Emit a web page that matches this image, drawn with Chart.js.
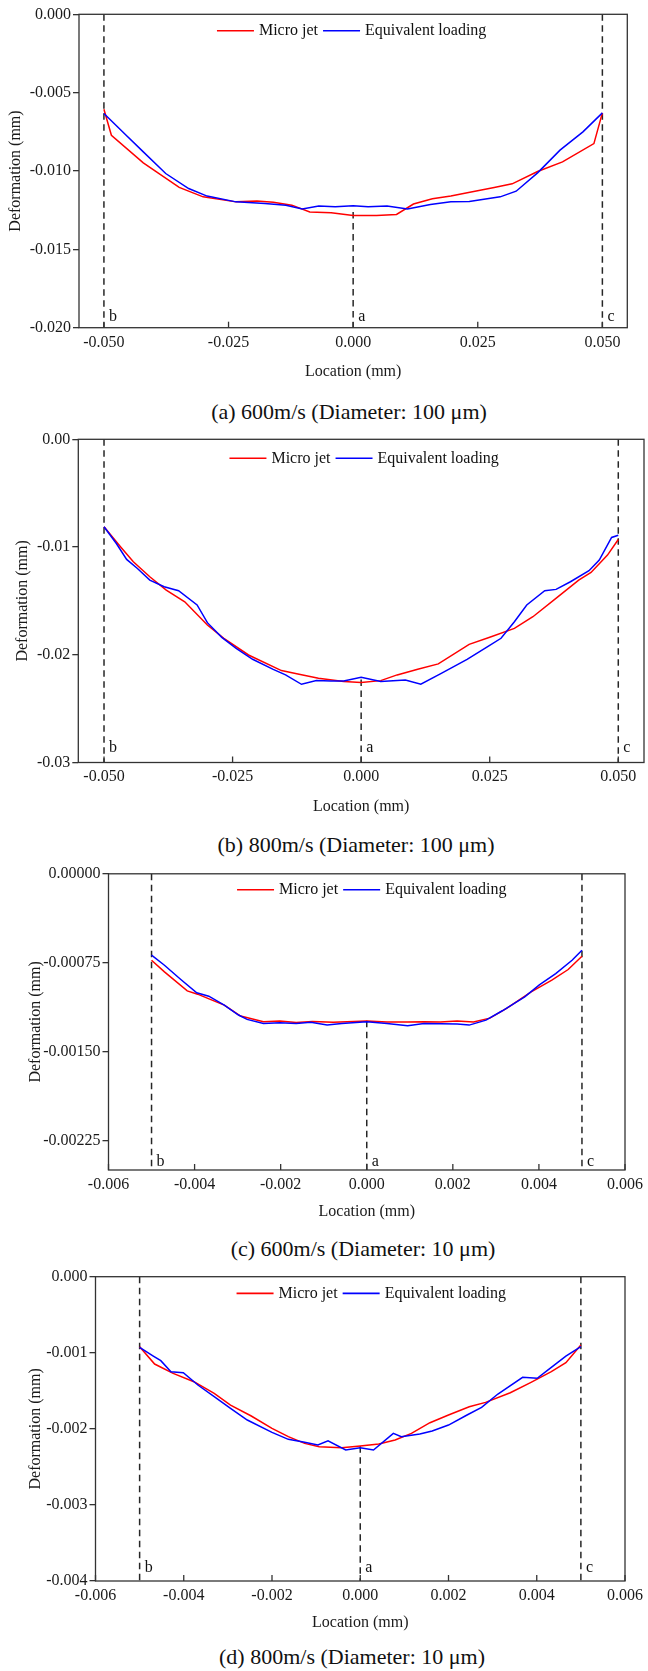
<!DOCTYPE html>
<html>
<head>
<meta charset="utf-8">
<script src="https://cdn.jsdelivr.net/npm/chart.js@4.4.0/dist/chart.umd.min.js"></script>
<style>
  body { margin: 0; background: #fff; }
  #page { position: relative; width: 648px; height: 1671px; overflow: hidden; }
  #page canvas { position: absolute; left: 0; }
  .caption {
    position: absolute; transform: translateX(-50%); white-space: nowrap;
    font: 22px "Liberation Serif", "Times New Roman", serif; line-height: 26px; color: #111;
  }
</style>
</head>
<body>
<div id="page"></div>
<script>
// series names / colours shared by all four plots
const seriesNames = ["Micro jet", "Equivalent loading"];
const seriesColors = ["#ff0000", "#0000ff"];
const markerNames = ["b", "a", "c"];

const captions = [
  "(a) 600m/s (Diameter: 100 μm)",
  "(b) 800m/s (Diameter: 100 μm)",
  "(c) 600m/s (Diameter: 10 μm)",
  "(d) 800m/s (Diameter: 10 μm)"
];

// (a) 600 m/s, 100 um
const aMicroX = [-0.050, -0.0485, -0.0421, -0.0349, -0.0301, -0.0235, -0.0193, -0.0160, -0.0123, -0.0087, -0.0044, 0.0000, 0.0047, 0.0087, 0.0121, 0.0159, 0.0196, 0.0229, 0.0283, 0.0319, 0.0370, 0.0420, 0.0483, 0.050];
const aMicroY = [-0.00606, -0.00772, -0.00948, -0.01105, -0.01165, -0.01197, -0.01192, -0.01199, -0.01218, -0.01262, -0.01267, -0.01284, -0.01284, -0.01277, -0.01211, -0.01177, -0.01160, -0.01139, -0.01105, -0.01082, -0.01003, -0.00942, -0.00825, -0.00629];
const aEquivX = [-0.050, -0.0459, -0.0421, -0.0376, -0.0330, -0.0293, -0.0235, -0.0177, -0.0135, -0.0102, -0.0069, -0.0036, 0.0000, 0.0030, 0.0068, 0.0109, 0.0155, 0.0196, 0.0233, 0.0295, 0.0327, 0.0370, 0.0415, 0.0461, 0.050];
const aEquivY = [-0.00633, -0.00761, -0.00878, -0.01016, -0.01112, -0.01160, -0.01197, -0.01207, -0.01218, -0.01243, -0.01224, -0.01228, -0.01222, -0.01228, -0.01224, -0.01243, -0.01214, -0.01197, -0.01194, -0.01165, -0.01129, -0.01012, -0.00867, -0.00750, -0.00629];

// (b) 800 m/s, 100 um
const bMicroX = [-0.0500, -0.0468, -0.0443, -0.0411, -0.0379, -0.0343, -0.0299, -0.0267, -0.0219, -0.0155, -0.0123, -0.0083, -0.0034, 0.0000, 0.0038, 0.0070, 0.0110, 0.0150, 0.0210, 0.0250, 0.0298, 0.0334, 0.0383, 0.0423, 0.0447, 0.0479, 0.0500];
const bMicroY = [-0.00812, -0.00998, -0.01137, -0.01276, -0.01399, -0.01508, -0.01724, -0.01847, -0.02002, -0.02147, -0.02178, -0.02218, -0.02249, -0.02258, -0.02240, -0.02187, -0.02135, -0.02085, -0.01903, -0.01838, -0.01755, -0.01647, -0.01461, -0.01307, -0.01236, -0.01075, -0.00930];
const bEquivX = [-0.0500, -0.0476, -0.0456, -0.0435, -0.0411, -0.0383, -0.0355, -0.0319, -0.0299, -0.0271, -0.0243, -0.0211, -0.0171, -0.0147, -0.0116, -0.0087, -0.0059, -0.0034, 0.0000, 0.0038, 0.0086, 0.0116, 0.0154, 0.0206, 0.0246, 0.0272, 0.0298, 0.0322, 0.0357, 0.0379, 0.0407, 0.0443, 0.0463, 0.0487, 0.0500];
const bEquivY = [-0.00812, -0.00967, -0.01115, -0.01199, -0.01307, -0.01369, -0.01406, -0.01538, -0.01702, -0.01838, -0.01940, -0.02042, -0.02135, -0.02187, -0.02274, -0.02240, -0.02243, -0.02243, -0.02209, -0.02249, -0.02234, -0.02274, -0.02178, -0.02042, -0.01925, -0.01847, -0.01693, -0.01538, -0.01406, -0.01393, -0.01322, -0.01220, -0.01121, -0.00911, -0.00890];

// (c) 600 m/s, 10 um
const cMicroX = [-0.00500, -0.00470, -0.00417, -0.00393, -0.00365, -0.00331, -0.00293, -0.00240, -0.00202, -0.00164, -0.00126, -0.00078, -0.00030, 0.00000, 0.00047, 0.00095, 0.00133, 0.00171, 0.00210, 0.00248, 0.00286, 0.00325, 0.00382, 0.00430, 0.00468, 0.00500];
const cMicroY = [-0.000730, -0.000828, -0.000988, -0.001016, -0.001058, -0.001108, -0.001201, -0.001249, -0.001243, -0.001254, -0.001246, -0.001254, -0.001246, -0.001243, -0.001251, -0.001251, -0.001249, -0.001251, -0.001243, -0.001251, -0.001218, -0.001136, -0.000996, -0.000898, -0.000808, -0.000696];
const cEquivX = [-0.00500, -0.00470, -0.00432, -0.00395, -0.00367, -0.00331, -0.00298, -0.00278, -0.00240, -0.00202, -0.00164, -0.00130, -0.00092, -0.00058, 0.00000, 0.00047, 0.00095, 0.00133, 0.00171, 0.00210, 0.00238, 0.00277, 0.00315, 0.00367, 0.00401, 0.00439, 0.00477, 0.00500];
const cEquivY = [-0.000687, -0.000772, -0.000892, -0.001004, -0.001033, -0.001108, -0.001192, -0.001229, -0.001263, -0.001257, -0.001263, -0.001254, -0.001277, -0.001263, -0.001249, -0.001263, -0.001282, -0.001263, -0.001265, -0.001268, -0.001277, -0.001235, -0.001156, -0.001038, -0.000937, -0.000842, -0.000730, -0.000645];

// (d) 800 m/s, 10 um
const dMicroX = [-0.00500, -0.00466, -0.00424, -0.00377, -0.00331, -0.00294, -0.00247, -0.00200, -0.00163, -0.00126, -0.00093, -0.00042, 0.00000, 0.00042, 0.00079, 0.00116, 0.00158, 0.00200, 0.00247, 0.00284, 0.00340, 0.00387, 0.00433, 0.00466, 0.00500];
const dMicroY = [-0.000920, -0.001148, -0.001271, -0.001380, -0.001533, -0.001687, -0.001831, -0.001993, -0.002103, -0.002191, -0.002234, -0.002248, -0.002226, -0.002199, -0.002147, -0.002059, -0.001919, -0.001818, -0.001709, -0.001652, -0.001525, -0.001389, -0.001249, -0.001130, -0.000898];
const dEquivX = [-0.00500, -0.00469, -0.00452, -0.00429, -0.00401, -0.00368, -0.00331, -0.00294, -0.00256, -0.00200, -0.00163, -0.00126, -0.00096, -0.00073, -0.00033, 0.00000, 0.00030, 0.00075, 0.00093, 0.00135, 0.00163, 0.00200, 0.00242, 0.00275, 0.00312, 0.00368, 0.00401, 0.00433, 0.00466, 0.00500];
const dEquivY = [-0.000929, -0.001043, -0.001104, -0.001249, -0.001262, -0.001424, -0.001577, -0.001731, -0.001884, -0.002046, -0.002138, -0.002177, -0.002212, -0.002156, -0.002278, -0.002248, -0.002278, -0.002059, -0.002103, -0.002068, -0.002028, -0.001950, -0.001818, -0.001717, -0.001542, -0.001323, -0.001336, -0.001192, -0.001043, -0.000920];

// axes
const xTicksWide = [-0.050, -0.025, 0.000, 0.025, 0.050];
const xTicksNarrow = [-0.006, -0.004, -0.002, 0.000, 0.002, 0.004, 0.006];
const aYTicks = [0, -0.005, -0.010, -0.015, -0.020];
const bYTicks = [0, -0.01, -0.02, -0.03];
const cYTicks = [0, -0.00075, -0.00150, -0.00225];
const dYTicks = [0, -0.001, -0.002, -0.003, -0.004];

// b / a / c section positions and where the centre line meets the curve
const markerXWide = [-0.050, 0, 0.050];
const markerXNarrow = [-0.005, 0, 0.005];
const centreTop = [-0.01262, -0.0223, -0.00124, -0.00223];

const FONT = '"Liberation Serif", "Times New Roman", serif';
const axisFont = { family: FONT, size: 16 };
Chart.defaults.font.family = FONT;
Chart.defaults.font.size = 16;
Chart.defaults.color = "#1a1a1a";

const zip = (xs, ys) => xs.map((x, i) => ({ x, y: ys[i] }));

// frame, inward x ticks, in-plot legend and the b/a/c letters
const decor = {
  id: "decor",
  afterDraw(chart, args, o) {
    const { ctx, chartArea: area } = chart;
    const xs = chart.scales.x;
    ctx.save();
    ctx.strokeStyle = "#333";
    ctx.lineWidth = 1.3;
    ctx.strokeRect(area.left, area.top, area.right - area.left, area.bottom - area.top);

    xs.ticks.forEach(t => {
      const px = xs.getPixelForValue(t.value);
      ctx.beginPath();
      ctx.moveTo(px, area.bottom);
      ctx.lineTo(px, area.bottom - 6);
      ctx.stroke();
    });

    ctx.font = "16px " + FONT;
    ctx.fillStyle = "#111";
    ctx.textBaseline = "alphabetic";
    ctx.textAlign = "left";
    o.markers.forEach((mx, i) => {
      ctx.fillText(markerNames[i], xs.getPixelForValue(mx) + 5, area.bottom - o.letterRise);
    });

    const lineLen = 37, gap = 5;
    const widths = seriesNames.map(n => ctx.measureText(n).width);
    const total = 2 * lineLen + 3 * gap + widths[0] + widths[1];
    let x = (area.left + area.right) / 2 - total / 2 + o.legendShift;
    const y = area.top + o.legendDy;
    ctx.textBaseline = "middle";
    seriesNames.forEach((n, i) => {
      ctx.strokeStyle = seriesColors[i];
      ctx.lineWidth = 1.6;
      ctx.beginPath();
      ctx.moveTo(x, y);
      ctx.lineTo(x + lineLen, y);
      ctx.stroke();
      x += lineLen + gap;
      ctx.fillText(n, x, y);
      x += widths[i] + gap;
    });
    ctx.restore();
  }
};

const panels = [
  { micro: [aMicroX, aMicroY], equiv: [aEquivX, aEquivY], xTicks: xTicksWide, xRange: 0.055, xDec: 3,
    yTicks: aYTicks, yMin: -0.020, yDec: 3, markers: markerXWide,
    top: 14.3, bottom: 327.7, left: 79, right: 627.3, yTitleX: 16, xTitleGap: 44, capY: 411.7, capX: 349,
    legendDy: 16.4, legendShift: -1.5, letterRise: 6.5 },
  { micro: [bMicroX, bMicroY], equiv: [bEquivX, bEquivY], xTicks: xTicksWide, xRange: 0.055, xDec: 3,
    yTicks: bYTicks, yMin: -0.03, yDec: 2, markers: markerXWide,
    top: 439.3, bottom: 762.5, left: 78.3, right: 644, yTitleX: 23, xTitleGap: 44.2, capY: 845, capX: 356,
    legendDy: 19, legendShift: 3, letterRise: 10.5 },
  { micro: [cMicroX, cMicroY], equiv: [cEquivX, cEquivY], xTicks: xTicksNarrow, xRange: 0.006, xDec: 3,
    yTicks: cYTicks, yMin: -0.0025, yDec: 5, markers: markerXNarrow,
    top: 873.8, bottom: 1170, left: 108.5, right: 629, yTitleX: 36, xTitleGap: 41.7, capY: 1248.5, capX: 363,
    legendDy: 16, legendShift: 5, letterRise: 4.5 },
  { micro: [dMicroX, dMicroY], equiv: [dEquivX, dEquivY], xTicks: xTicksNarrow, xRange: 0.006, xDec: 3,
    yTicks: dYTicks, yMin: -0.004, yDec: 3, markers: markerXNarrow,
    top: 1276.7, bottom: 1581, left: 95.5, right: 628.5, yTitleX: 36, xTitleGap: 41.7, capY: 1656.7, capX: 352,
    legendDy: 16.7, legendShift: 11, letterRise: 9 }
];

const page = document.getElementById("page");

panels.forEach((p, k) => {
  const half = 9.6; // half of the 16px title line height
  const canvasTop = Math.floor(p.top) - 12;
  const padTop = p.top - canvasTop;
  const plotH = p.bottom - p.top;
  const xH = p.xTitleGap + half;
  const H = Math.ceil(padTop + plotH + xH);
  const padLeft = p.yTitleX - half;

  const cv = document.createElement("canvas");
  cv.width = 648;
  cv.height = H;
  cv.style.top = canvasTop + "px";
  page.appendChild(cv);

  const markerSets = p.markers.map((mx, i) => ({
    data: [{ x: mx, y: i === 1 ? centreTop[k] : 0 }, { x: mx, y: p.yMin }],
    showLine: true, borderColor: "#262626", borderWidth: 1.5, borderDash: [6.5, 4.5],
    pointRadius: 0, order: 3
  }));

  new Chart(cv, {
    type: "scatter",
    data: {
      datasets: [
        { label: seriesNames[0], data: zip(p.micro[0], p.micro[1]), showLine: true,
          borderColor: seriesColors[0], borderWidth: 1.5, pointRadius: 0, order: 2 },
        { label: seriesNames[1], data: zip(p.equiv[0], p.equiv[1]), showLine: true,
          borderColor: seriesColors[1], borderWidth: 1.5, pointRadius: 0, order: 1 },
        ...markerSets
      ]
    },
    options: {
      responsive: false,
      animation: false,
      events: [],
      layout: { padding: { left: padLeft, right: 648 - p.right, top: padTop, bottom: H - padTop - plotH - xH } },
      plugins: {
        legend: { display: false },
        tooltip: { enabled: false },
        decor: { markers: p.markers, legendDy: p.legendDy, legendShift: p.legendShift, letterRise: p.letterRise }
      },
      scales: {
        x: {
          type: "linear", position: "bottom", min: -p.xRange, max: p.xRange,
          afterBuildTicks: s => { s.ticks = p.xTicks.map(v => ({ value: v })); },
          afterFit: s => { s.height = xH; },
          grid: { display: false, drawTicks: false },
          border: { display: false },
          ticks: { padding: 5, color: "#1a1a1a", font: axisFont, callback: v => Number(v).toFixed(p.xDec) },
          title: { display: true, text: "Location (mm)", padding: 0, color: "#1a1a1a", font: axisFont }
        },
        y: {
          type: "linear", position: "left", min: p.yMin, max: 0,
          afterBuildTicks: s => { s.ticks = p.yTicks.map(v => ({ value: v })); },
          afterFit: s => { s.width = p.left - padLeft; },
          grid: { drawOnChartArea: false, drawTicks: true, tickLength: 6, color: "#333", lineWidth: 1.3 },
          border: { display: false },
          ticks: { padding: 2, color: "#1a1a1a", font: axisFont, callback: v => Number(v).toFixed(p.yDec) },
          title: { display: true, text: "Deformation (mm)", padding: 0, color: "#1a1a1a", font: axisFont }
        }
      }
    },
    plugins: [decor]
  });

  const cap = document.createElement("div");
  cap.className = "caption";
  cap.textContent = captions[k];
  cap.style.left = p.capX + "px";
  cap.style.top = (p.capY - 13) + "px";
  page.appendChild(cap);
});
</script>
</body>
</html>
